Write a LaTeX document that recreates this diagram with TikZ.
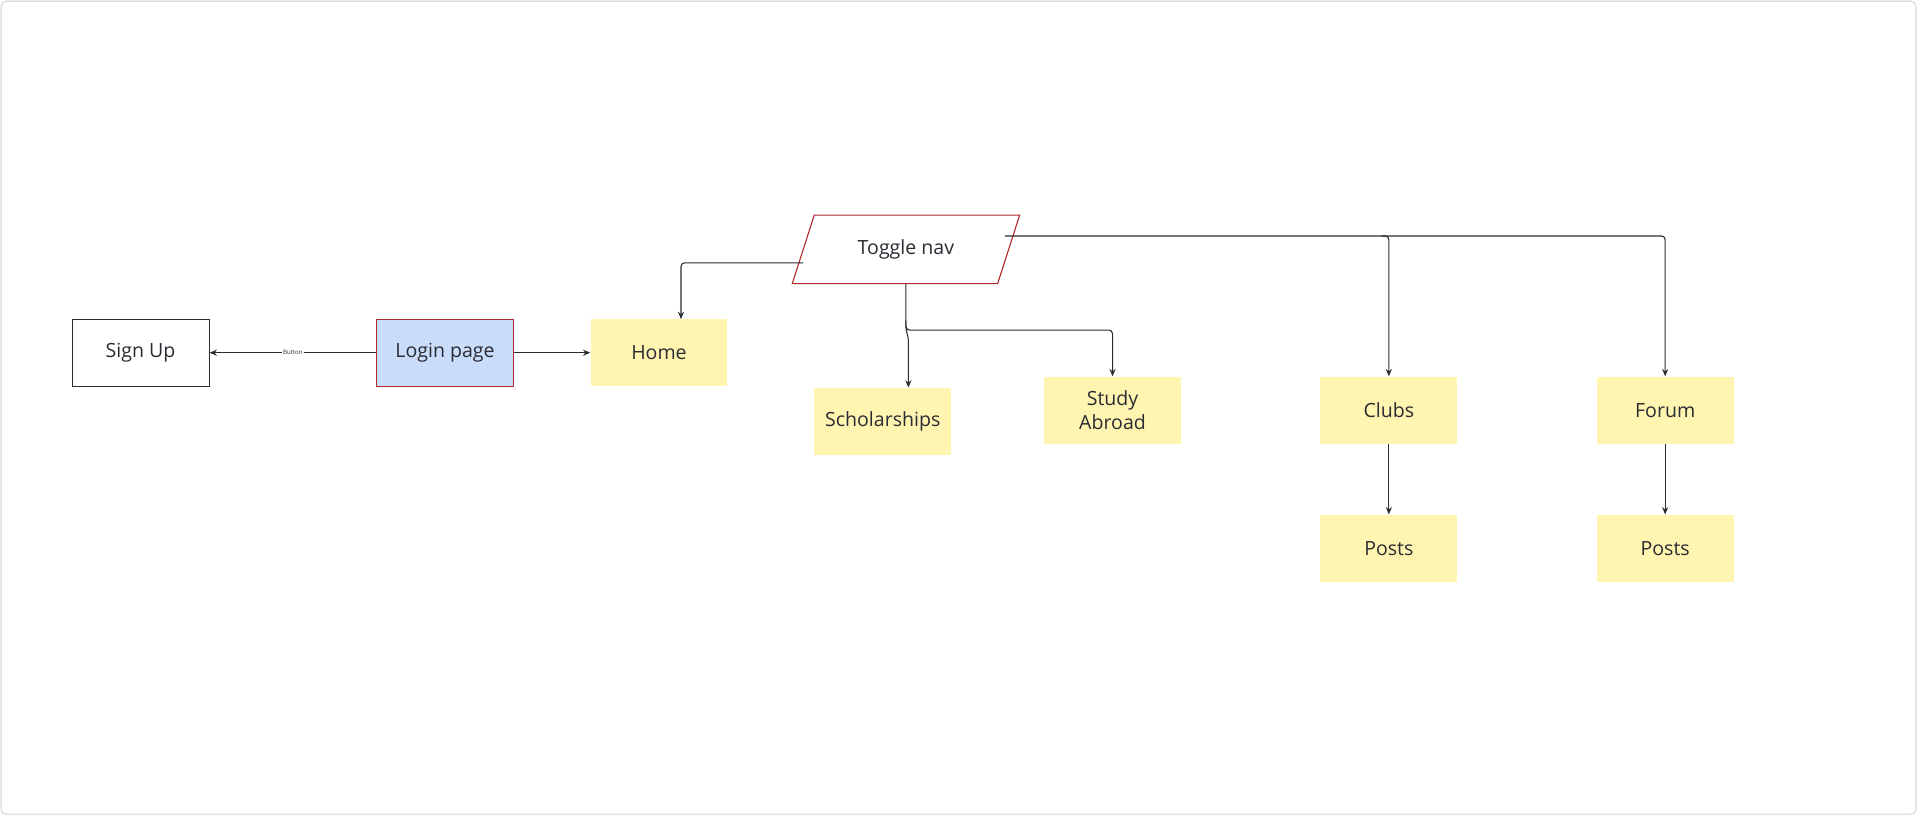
\documentclass[tikz,border=0pt]{standalone}
\usepackage{fontspec}
\setmainfont{Open Sans}
\usetikzlibrary{arrows.meta}
\definecolor{yel}{HTML}{FFF5B1}
\definecolor{blu}{HTML}{C9DDFB}
\definecolor{rd}{HTML}{B0272C}
\definecolor{ln}{HTML}{2B2B33}
\begin{document}
\begin{tikzpicture}[x=1pt,y=-1pt,
  box/.style={minimum width=112pt,minimum height=55pt,inner sep=0pt,align=center,font=\fontsize{16}{19}\selectfont,text=ln},
  sticky/.style={box,fill=yel},
  conn/.style={draw=ln,line width=0.9pt,-{Stealth[length=6pt,width=5pt]},rounded corners=3pt}]
\useasboundingbox (0,0) rectangle (1568,667);
\draw[gray!25,line width=1.2pt,rounded corners=4pt] (1,1) rectangle (1567,666);
\node[box,draw=ln,line width=0.9pt] (su) at (115,288.5) {Sign Up};
\node[box,fill=blu,draw=rd,line width=0.9pt] (lp) at (364,288.5) {Login page};
\node[sticky] (home) at (539,288.5) {Home};
\node[sticky] (sch) at (722,344.5) {Scholarships};
\node[sticky] (sa) at (910,335.5) {Study\\Abroad};
\node[sticky] (cl) at (1136,335.5) {Clubs};
\node[sticky] (cp) at (1136,448.5) {Posts};
\node[sticky] (fo) at (1362,335.5) {Forum};
\node[sticky] (fp) at (1362,448.5) {Posts};
\draw[rd,fill=white,line width=0.9pt] (666,176) -- (834,176) -- (816,232) -- (648,232) -- cycle;
\node[font=\fontsize{16}{19}\selectfont,text=ln] (tog) at (741,204) {Toggle nav};
\coordinate (tl) at (657,215);
\coordinate (tb) at (741,232);
\coordinate (tr) at (822,193);
\draw[conn] (lp.west) -- node[fill=white,inner sep=1pt,font=\fontsize{5}{6}\selectfont,text=ln]{Button} (su.east);
\draw[conn] (lp.east) -- (home.west);
\draw[conn] (tl) -- (557,215) -- (557,261);
\draw[conn] (tb) -- (741,270) -- (743,276) -- (743,317);
\draw[conn] (741,262) -- (741,270) -- (910,270) -- (sa.north);
\draw[conn] (tr) -- (1136,193) -- (cl.north);
\draw[conn] (1130,193) -- (1362,193) -- (fo.north);
\draw[conn] (cl) -- (cp);
\draw[conn] (fo) -- (fp);
\end{tikzpicture}
\end{document}
